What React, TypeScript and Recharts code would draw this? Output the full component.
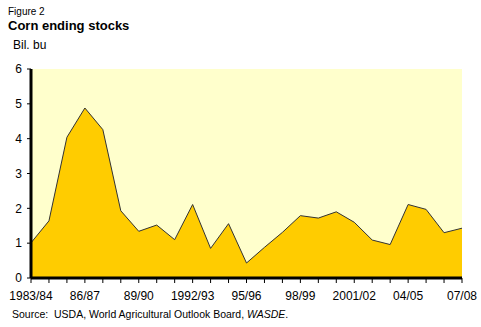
import React from "react";
import { AreaChart, Area, XAxis, YAxis, CartesianGrid } from "recharts";

const categories = [
  "1983/84", "84/85", "85/86", "86/87", "87/88", "88/89", "89/90", "90/91", "91/92",
  "1992/93", "93/94", "94/95", "95/96", "96/97", "97/98", "98/99", "99/00", "00/01",
  "2001/02", "02/03", "03/04", "04/05", "05/06", "06/07", "07/08",
];
const stocks = [
  1.01, 1.64, 4.04, 4.88, 4.26, 1.93, 1.34, 1.52, 1.10,
  2.11, 0.85, 1.56, 0.43, 0.88, 1.31, 1.79, 1.72, 1.90,
  1.60, 1.09, 0.96, 2.11, 1.97, 1.30, 1.43,
];
const xTickLabels = ["1983/84", "86/87", "89/90", "1992/93", "95/96", "98/99", "2001/02", "04/05", "07/08"];
const yTicks = [0, 1, 2, 3, 4, 5, 6];

const data = categories.map((c, i) => ({ cat: c, value: stocks[i] }));

const FONT = "'Liberation Sans', Arial, sans-serif";

const XTick = (props: any) => {
  const { x, y, payload } = props;
  if (!xTickLabels.includes(payload.value)) return null;
  return (
    <text x={x} y={y} dy="0.71em" textAnchor="middle" fontSize={12} fill="#000" fontFamily={FONT}>
      {payload.value}
    </text>
  );
};

export default function App() {
  return (
    <div style={{ position: "absolute", left: 0, top: 0, width: 481, height: 327, background: "#fff", fontFamily: FONT }}>
      <div style={{ position: "absolute", left: 8, top: 6, fontSize: 10, color: "#000" }}>Figure 2</div>
      <div style={{ position: "absolute", left: 8, top: 18, fontSize: 13, fontWeight: "bold", color: "#000" }}>Corn ending stocks</div>
      <div style={{ position: "absolute", left: 13, top: 38, fontSize: 12, color: "#000" }}>Bil. bu</div>
      <div style={{ position: "absolute", left: 12, top: 308, fontSize: 10.5, color: "#000", whiteSpace: "pre" }}>
        Source:  USDA, World Agricultural Outlook Board, <i>WASDE</i>.
      </div>
      <div style={{ position: "absolute", left: 0, top: 0 }}>
        <AreaChart width={481} height={327} data={data} margin={{ top: 69, right: 19, bottom: 0, left: 0 }}>
          <CartesianGrid horizontal={false} vertical={false} fill="#FFFFCC" />
          <Area
            type="linear"
            dataKey="value"
            fill="#FFCC00"
            fillOpacity={1}
            stroke="#333333"
            strokeWidth={1}
            isAnimationActive={false}
            dot={false}
            activeDot={false}
          />
          <XAxis
            dataKey="cat"
            interval={0}
            height={49}
            tick={<XTick />}
            tickSize={5}
            tickMargin={8}
            tickLine={{ stroke: "#000", strokeWidth: 1 }}
            axisLine={{ stroke: "#000", strokeWidth: 3 }}
          />
          <XAxis
            xAxisId="top"
            dataKey="cat"
            orientation="top"
            height={0}
            tick={false}
            tickLine={false}
            axisLine={{ stroke: "#000", strokeWidth: 4 }}
          />
          <YAxis
            domain={[0, 6]}
            ticks={yTicks}
            width={31}
            tickSize={4}
            tickMargin={5}
            tick={{ fontSize: 12, fill: "#000", fontFamily: FONT }}
            tickLine={{ stroke: "#000", strokeWidth: 1 }}
            axisLine={{ stroke: "#000", strokeWidth: 3 }}
          />
          <YAxis
            yAxisId="right"
            orientation="right"
            domain={[0, 6]}
            width={0}
            tick={false}
            tickLine={false}
            axisLine={{ stroke: "#000", strokeWidth: 4 }}
          />
        </AreaChart>
      </div>
    </div>
  );
}
